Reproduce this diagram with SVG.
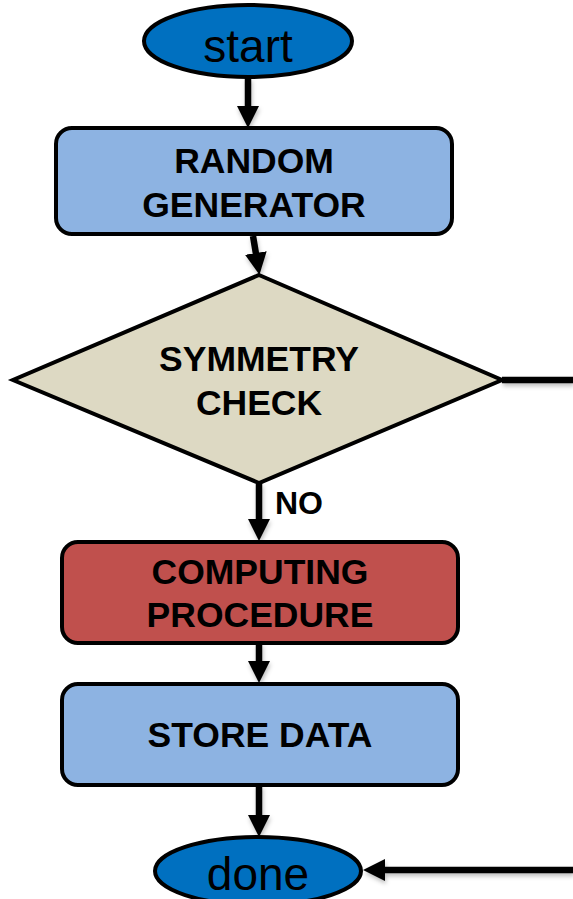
<svg xmlns="http://www.w3.org/2000/svg" width="573" height="899" viewBox="0 0 573 899">
  <defs>
    <marker id="arrow" viewBox="0 0 22 22" markerUnits="userSpaceOnUse" markerWidth="22" markerHeight="22" refX="1" refY="11" orient="auto">
      <path d="M0,0 L22,11 L0,22 z" fill="#000"/>
    </marker>
    <filter id="soft" x="-10%" y="-50%" width="120%" height="200%">
      <feDropShadow dx="1" dy="3" stdDeviation="2" flood-color="#000" flood-opacity="0.25"/>
    </filter>
  </defs>
  <style>
    .term { fill: #0070C0; stroke: #000; stroke-width: 4; }
    .proc { fill: #8DB3E2; stroke: #000; stroke-width: 4; }
    .hot { fill: #C0504D; stroke: #000; stroke-width: 4; }
    .dec { fill: #DDD9C3; stroke: #000; stroke-width: 4; stroke-linejoin: miter; }
    .big { font-family: "Liberation Sans", Arial, sans-serif; font-size: 46px; fill: #000; text-anchor: middle; }
    .lbl { font-family: "Liberation Sans", Arial, sans-serif; font-size: 35.5px; font-weight: bold; fill: #000; text-anchor: middle; }
    .note { font-family: "Liberation Sans", Arial, sans-serif; font-size: 32px; font-weight: bold; fill: #000; }
    .wire { fill: none; stroke: #000; stroke-width: 6.5; }
  </style>
  <rect width="573" height="899" fill="#fff"/>

  <!-- connectors -->
  <g id="connectors" filter="url(#soft)">
    <path class="wire" d="M248,78 L248,107" marker-end="url(#arrow)"/>
    <path class="wire" d="M253,236 L256,254" marker-end="url(#arrow)"/>
    <path class="wire" d="M502,380 L573,380"/>
    <path class="wire" d="M259,483 L259,520" marker-end="url(#arrow)"/>
    <path class="wire" d="M259,643 L259,662" marker-end="url(#arrow)"/>
    <path class="wire" d="M259,785 L259,816" marker-end="url(#arrow)"/>
    <path class="wire" d="M573,870 L384,870" marker-end="url(#arrow)"/>
  </g>

  <g id="start">
    <ellipse class="term" cx="248" cy="41" rx="104" ry="36"/>
    <text class="big" x="248" y="62">start</text>
  </g>

  <g id="random-generator">
    <rect class="proc" x="56" y="128" width="396" height="106" rx="16"/>
    <text class="lbl" x="254" y="173">RANDOM</text>
    <text class="lbl" x="254" y="217">GENERATOR</text>
  </g>

  <g id="symmetry-check">
    <polygon class="dec" points="259,275 502,380 259,483 13,380"/>
    <text class="lbl" x="259" y="371">SYMMETRY</text>
    <text class="lbl" x="259" y="415">CHECK</text>
  </g>

  <text class="note" x="275" y="514">NO</text>

  <g id="computing-procedure">
    <rect class="hot" x="62" y="542" width="396" height="101" rx="16"/>
    <text class="lbl" x="260" y="584">COMPUTING</text>
    <text class="lbl" x="260" y="627">PROCEDURE</text>
  </g>

  <g id="store-data">
    <rect class="proc" x="62" y="684" width="396" height="101" rx="16"/>
    <text class="lbl" x="260" y="747">STORE DATA</text>
  </g>

  <g id="done">
    <ellipse class="term" cx="258" cy="871" rx="103" ry="34"/>
    <text class="big" x="258" y="890">done</text>
  </g>
</svg>
